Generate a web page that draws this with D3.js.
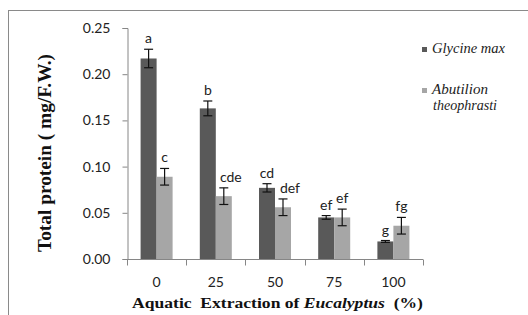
<!DOCTYPE html>
<html lang="en">
<head>
    <meta charset="UTF-8">
    <title>Total protein</title>
    <script src="https://d3js.org/d3.v7.min.js"></script>
    <style>
        body { margin: 0; background: #fff; }
        .tick-label { font-family: Lato, "Open Sans", sans-serif; font-size: 14px; fill: #222; }
        .axis-title { font-family: "Times New Roman", "Liberation Serif", serif; font-weight: bold; fill: #111; }
        .legend-text { font-family: "Times New Roman", "Liberation Serif", serif; font-style: italic; font-size: 14px; fill: #222; }
    </style>
</head>
<body>
<svg width="528" height="315"></svg>
<script>
    // data
    const categories = ["0", "25", "50", "75", "100"];
    const seriesNames = ["Glycine max", "Abutilion theophrasti"];
    const glycine = [0.217, 0.163, 0.077, 0.045, 0.019];
    const glycineErr = [0.010, 0.008, 0.0045, 0.002, 0.001];
    const abutilon = [0.089, 0.068, 0.056, 0.045, 0.036];
    const abutilonErr = [0.009, 0.009, 0.009, 0.009, 0.009];
    const glycineLetters = ["a", "b", "cd", "ef", "g"];
    const abutilonLetters = ["c", "cde", "def", "ef", "fg"];
    const yTicks = [0, 0.05, 0.10, 0.15, 0.20, 0.25];

    const colors = ["#595959", "#a6a6a6"];
    const svg = d3.select("svg");

    // outer frame (only top and left edges are visible)
    svg.append("rect")
        .attr("x", 8.5).attr("y", 10.5)
        .attr("width", 540).attr("height", 330)
        .attr("fill", "none").attr("stroke", "#8a8a8a");

    const x = d3.scaleBand().domain(categories).range([127, 423]);
    const x1 = d3.scaleBand().domain([0, 1]).range([0, x.bandwidth()]).paddingOuter(0.85);
    const y = d3.scaleLinear().domain([0, 0.25]).range([259, 28]);

    // y axis
    const yAxis = svg.append("g")
        .attr("transform", "translate(127.5,0)")
        .call(d3.axisLeft(y).tickValues(yTicks).tickFormat(d3.format(".2f")).tickSize(5).tickPadding(12));
    yAxis.selectAll("text").attr("class", "tick-label").attr("font-family", null).attr("font-size", null);
    yAxis.selectAll("line, path").attr("stroke", "#868686");

    // x axis: ticks at band boundaries
    const xg = svg.append("g").attr("transform", "translate(0,259.5)");
    xg.append("line").attr("x1", 127).attr("x2", 423).attr("stroke", "#868686");
    const bounds = categories.map(c => x(c)).concat([x(categories[4]) + x.bandwidth()]);
    xg.selectAll("line.tk").data(bounds).enter().append("line")
        .attr("class", "tk")
        .attr("x1", d => Math.round(d) + 0.5).attr("x2", d => Math.round(d) + 0.5)
        .attr("y1", 0).attr("y2", 6).attr("stroke", "#868686");
    svg.selectAll("text.xl").data(categories).enter().append("text")
        .attr("class", "tick-label")
        .attr("x", d => x(d) + x.bandwidth() / 2)
        .attr("y", 287)
        .attr("text-anchor", "middle")
        .text(d => d);

    // bars
    const rows = [];
    categories.forEach((c, i) => {
        rows.push({ c, s: 0, v: glycine[i], e: glycineErr[i], l: glycineLetters[i] });
        rows.push({ c, s: 1, v: abutilon[i], e: abutilonErr[i], l: abutilonLetters[i] });
    });
    const g = svg.append("g");
    g.selectAll("rect").data(rows).enter().append("rect")
        .attr("x", d => x(d.c) + x1(d.s))
        .attr("y", d => y(d.v))
        .attr("width", x1.bandwidth())
        .attr("height", d => y(0) - y(d.v))
        .attr("fill", d => colors[d.s]);

    // error bars
    const cx = d => x(d.c) + x1(d.s) + x1.bandwidth() / 2;
    const eb = g.selectAll("g.err").data(rows).enter().append("g")
        .attr("stroke", "#111").attr("stroke-width", 1.2);
    eb.append("line").attr("x1", cx).attr("x2", cx)
        .attr("y1", d => y(d.v + d.e)).attr("y2", d => y(d.v - d.e));
    eb.append("line").attr("x1", d => cx(d) - 4.5).attr("x2", d => cx(d) + 4.5)
        .attr("y1", d => y(d.v + d.e)).attr("y2", d => y(d.v + d.e));
    eb.append("line").attr("x1", d => cx(d) - 4.5).attr("x2", d => cx(d) + 4.5)
        .attr("y1", d => y(d.v - d.e)).attr("y2", d => y(d.v - d.e));

    // significance letters; the wider light-bar labels sit a little to the right
    g.selectAll("text.let").data(rows).enter().append("text")
        .attr("class", "tick-label")
        .attr("x", d => cx(d) + (d.s === 1 && d.l.length > 2 ? 7 : 0))
        .attr("y", d => y(d.v + d.e) - 6)
        .attr("text-anchor", "middle")
        .text(d => d.l);

    // axis titles
    svg.append("text")
        .attr("class", "axis-title")
        .attr("transform", "translate(51,153) rotate(-90)")
        .attr("text-anchor", "middle")
        .attr("font-size", 19)
        .attr("textLength", 198).attr("lengthAdjust", "spacingAndGlyphs")
        .text("Total protein ( mg/F.W.)");

    const xt = svg.append("text")
        .attr("class", "axis-title")
        .attr("x", 132).attr("y", 308)
        .attr("font-size", 15)
        .attr("textLength", 291).attr("lengthAdjust", "spacingAndGlyphs");
    xt.append("tspan").text("Aquatic\u00a0 Extraction of ");
    xt.append("tspan").attr("font-style", "italic").text("Eucalyptus");
    xt.append("tspan").text("\u00a0 (%)");

    // legend
    const leg = svg.append("g");
    leg.append("rect").attr("x", 422).attr("y", 47).attr("width", 5).attr("height", 5).attr("fill", colors[0]);
    leg.append("text").attr("class", "legend-text").attr("x", 432).attr("y", 53)
        .attr("textLength", 73).attr("lengthAdjust", "spacingAndGlyphs").text(seriesNames[0]);
    leg.append("rect").attr("x", 422).attr("y", 88).attr("width", 5).attr("height", 5).attr("fill", colors[1]);
    const words = seriesNames[1].split(" ");
    leg.append("text").attr("class", "legend-text").attr("x", 432).attr("y", 94)
        .attr("textLength", 56).attr("lengthAdjust", "spacingAndGlyphs").text(words[0]);
    leg.append("text").attr("class", "legend-text").attr("x", 433).attr("y", 110)
        .attr("textLength", 64).attr("lengthAdjust", "spacingAndGlyphs").text(words[1]);
</script>
</body>
</html>
